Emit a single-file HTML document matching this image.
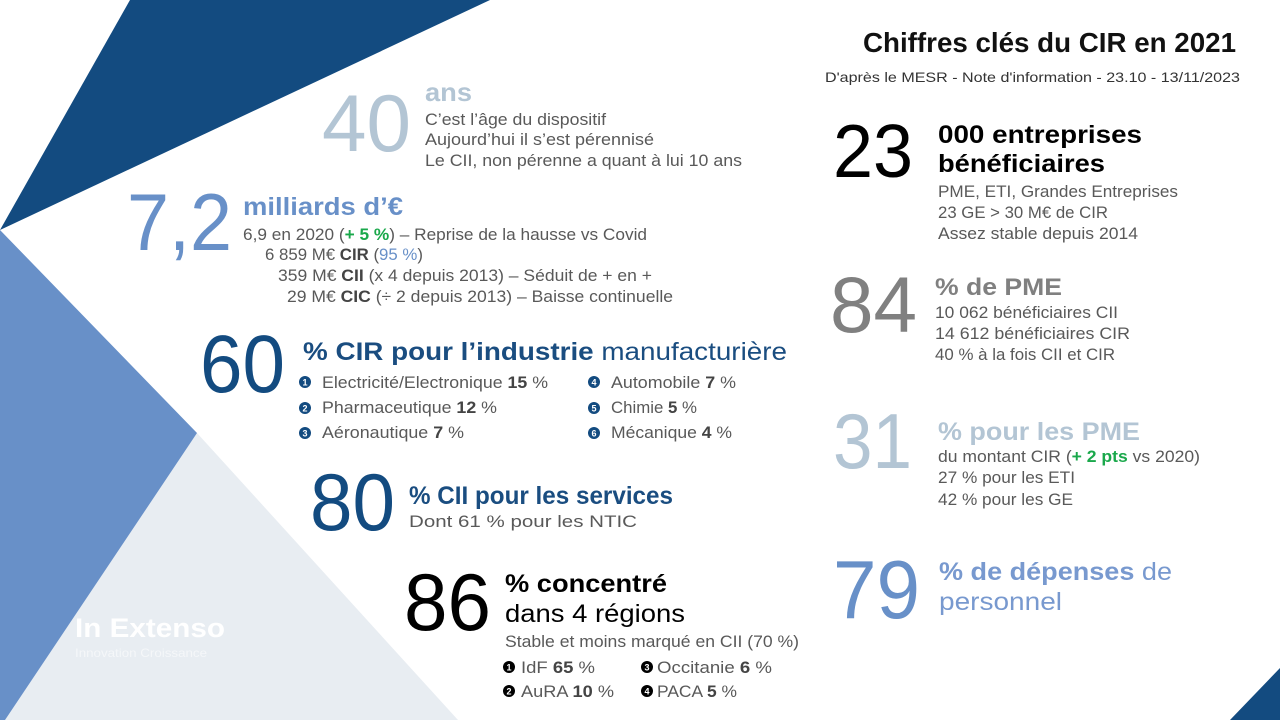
<!DOCTYPE html>
<html>
<head>
<meta charset="utf-8">
<style>
  html,body{margin:0;padding:0;background:#fff;}
  svg{display:block;}
  text{font-family:"Liberation Sans", Arial, sans-serif;}
</style>
</head>
<body>
<svg width="1280" height="720" viewBox="0 0 1280 720" xmlns="http://www.w3.org/2000/svg">
  <rect x="0" y="0" width="1280" height="720" fill="#ffffff"/>
  <!-- background shapes -->
  <polygon points="197,433 458,720 0,720" fill="#e8edf2"/>
  <polygon points="0,230 197,433 5,720 0,720" fill="#6890c8"/>
  <polygon points="130,0 490,0 0,230" fill="#134b80"/>
  <polygon points="1280,668 1280,720 1230,720" fill="#134b80"/>

  <!-- logo -->
  <text x="75" y="637" font-size="27" font-weight="bold" fill="#ffffff" textLength="150" lengthAdjust="spacingAndGlyphs">In Extenso</text>
  <text x="75" y="657" font-size="12" fill="#ffffff" fill-opacity="0.55" textLength="132" lengthAdjust="spacingAndGlyphs">Innovation Croissance</text>

  <!-- Title -->
  <text x="863" y="52" font-size="28" font-weight="bold" fill="#111111" textLength="373" lengthAdjust="spacingAndGlyphs">Chiffres clés du CIR en 2021</text>
  <text x="825" y="82" font-size="14" fill="#333333" textLength="415" lengthAdjust="spacingAndGlyphs">D'après le MESR - Note d'information - 23.10 - 13/11/2023</text>

  <!-- 40 -->
  <text x="322" y="151" font-size="81" fill="#b3c5d4" textLength="89" lengthAdjust="spacingAndGlyphs">40</text>
  <text x="425" y="101" font-size="26" font-weight="bold" fill="#b3c5d4" textLength="47" lengthAdjust="spacingAndGlyphs">ans</text>
  <g font-size="17" fill="#595959">
    <text x="425" y="125" textLength="181" lengthAdjust="spacingAndGlyphs">C’est l’âge du dispositif</text>
    <text x="425" y="145" textLength="229" lengthAdjust="spacingAndGlyphs">Aujourd’hui il s’est pérennisé</text>
    <text x="425" y="166" textLength="317" lengthAdjust="spacingAndGlyphs">Le CII, non pérenne a quant à lui 10 ans</text>
  </g>

  <!-- 7,2 -->
  <text x="127" y="250" font-size="81" fill="#6890c8" textLength="105" lengthAdjust="spacingAndGlyphs">7,2</text>
  <text x="243" y="215" font-size="25" font-weight="bold" fill="#6890c8" textLength="160" lengthAdjust="spacingAndGlyphs">milliards d’€</text>
  <g font-size="17" fill="#595959">
    <text x="243" y="240" textLength="404" lengthAdjust="spacingAndGlyphs">6,9 en 2020 (<tspan fill="#1aa84b" font-weight="bold">+ 5 %</tspan>) – Reprise de la hausse vs Covid</text>
    <text x="265" y="260" textLength="158" lengthAdjust="spacingAndGlyphs">6 859 M€ <tspan font-weight="bold" fill="#444">CIR</tspan> (<tspan fill="#6890c8">95 %</tspan>)</text>
    <text x="278" y="281" textLength="374" lengthAdjust="spacingAndGlyphs">359 M€ <tspan font-weight="bold" fill="#444">CII</tspan> (x 4 depuis 2013) – Séduit de + en +</text>
    <text x="287" y="302" textLength="386" lengthAdjust="spacingAndGlyphs">29 M€ <tspan font-weight="bold" fill="#444">CIC</tspan> (÷ 2 depuis 2013) – Baisse continuelle</text>
  </g>

  <!-- 60 -->
  <text x="200" y="392" font-size="82" fill="#134b80" textLength="85" lengthAdjust="spacingAndGlyphs">60</text>
  <text x="303" y="360" font-size="25" fill="#1a4d80" textLength="484" lengthAdjust="spacingAndGlyphs"><tspan font-weight="bold">% CIR pour l’industrie</tspan> manufacturière</text>
  <g fill="#134b80">
    <circle cx="305" cy="382" r="6"/>
    <circle cx="305" cy="408" r="6"/>
    <circle cx="305" cy="433" r="6"/>
    <circle cx="594" cy="382" r="6"/>
    <circle cx="594" cy="408" r="6"/>
    <circle cx="594" cy="433" r="6"/>
  </g>
  <g font-size="9" font-weight="bold" fill="#ffffff" text-anchor="middle">
    <text x="305" y="385.5">1</text>
    <text x="305" y="411.5">2</text>
    <text x="305" y="436.5">3</text>
    <text x="594" y="385.5">4</text>
    <text x="594" y="411.5">5</text>
    <text x="594" y="436.5">6</text>
  </g>
  <g font-size="17" fill="#595959">
    <text x="322" y="388" textLength="226" lengthAdjust="spacingAndGlyphs">Electricité/Electronique <tspan font-weight="bold" fill="#444">15</tspan> %</text>
    <text x="322" y="413" textLength="175" lengthAdjust="spacingAndGlyphs">Pharmaceutique <tspan font-weight="bold" fill="#444">12</tspan> %</text>
    <text x="322" y="438" textLength="142" lengthAdjust="spacingAndGlyphs">Aéronautique <tspan font-weight="bold" fill="#444">7</tspan> %</text>
    <text x="611" y="388" textLength="125" lengthAdjust="spacingAndGlyphs">Automobile <tspan font-weight="bold" fill="#444">7</tspan> %</text>
    <text x="611" y="413" textLength="86" lengthAdjust="spacingAndGlyphs">Chimie <tspan font-weight="bold" fill="#444">5</tspan> %</text>
    <text x="611" y="438" textLength="121" lengthAdjust="spacingAndGlyphs">Mécanique <tspan font-weight="bold" fill="#444">4</tspan> %</text>
  </g>

  <!-- 80 -->
  <text x="310" y="530" font-size="81" fill="#134b80" textLength="85" lengthAdjust="spacingAndGlyphs">80</text>
  <text x="409" y="504" font-size="25" font-weight="bold" fill="#1a4d80" textLength="264" lengthAdjust="spacingAndGlyphs">% CII pour les services</text>
  <text x="409" y="527" font-size="17" fill="#595959" textLength="228" lengthAdjust="spacingAndGlyphs">Dont 61 % pour les NTIC</text>

  <!-- 86 -->
  <text x="404" y="630" font-size="81" fill="#000000" textLength="87" lengthAdjust="spacingAndGlyphs">86</text>
  <text x="505" y="592" font-size="25" font-weight="bold" fill="#000000" textLength="162" lengthAdjust="spacingAndGlyphs">% concentré</text>
  <text x="505" y="622" font-size="25" fill="#000000" textLength="180" lengthAdjust="spacingAndGlyphs">dans 4 régions</text>
  <text x="505" y="647" font-size="17" fill="#595959" textLength="294" lengthAdjust="spacingAndGlyphs">Stable et moins marqué en CII (70 %)</text>
  <g fill="#000000">
    <circle cx="509" cy="667" r="6"/>
    <circle cx="509" cy="691" r="6"/>
    <circle cx="647" cy="667" r="6"/>
    <circle cx="647" cy="691" r="6"/>
  </g>
  <g font-size="9" font-weight="bold" fill="#ffffff" text-anchor="middle">
    <text x="509" y="670.5">1</text>
    <text x="509" y="694.5">2</text>
    <text x="647" y="670.5">3</text>
    <text x="647" y="694.5">4</text>
  </g>
  <g font-size="17" fill="#595959">
    <text x="521" y="673" textLength="74" lengthAdjust="spacingAndGlyphs">IdF <tspan font-weight="bold" fill="#444">65</tspan> %</text>
    <text x="521" y="697" textLength="93" lengthAdjust="spacingAndGlyphs">AuRA <tspan font-weight="bold" fill="#444">10</tspan> %</text>
    <text x="657" y="673" textLength="115" lengthAdjust="spacingAndGlyphs">Occitanie <tspan font-weight="bold" fill="#444">6</tspan> %</text>
    <text x="657" y="697" textLength="80" lengthAdjust="spacingAndGlyphs">PACA <tspan font-weight="bold" fill="#444">5</tspan> %</text>
  </g>

  <!-- 23 -->
  <text x="833" y="177" font-size="75" fill="#000000" textLength="80" lengthAdjust="spacingAndGlyphs">23</text>
  <text x="938" y="143" font-size="25" font-weight="bold" fill="#000000" textLength="204" lengthAdjust="spacingAndGlyphs">000 entreprises</text>
  <text x="938" y="172" font-size="25" font-weight="bold" fill="#000000" textLength="167" lengthAdjust="spacingAndGlyphs">bénéficiaires</text>
  <g font-size="17" fill="#595959">
    <text x="938" y="197" textLength="240" lengthAdjust="spacingAndGlyphs">PME, ETI, Grandes Entreprises</text>
    <text x="938" y="218" textLength="170" lengthAdjust="spacingAndGlyphs">23 GE &gt; 30 M€ de CIR</text>
    <text x="938" y="239" textLength="200" lengthAdjust="spacingAndGlyphs">Assez stable depuis 2014</text>
  </g>

  <!-- 84 -->
  <text x="830" y="332" font-size="79" fill="#808080" textLength="87" lengthAdjust="spacingAndGlyphs">84</text>
  <text x="935" y="295" font-size="24" font-weight="bold" fill="#808080" textLength="127" lengthAdjust="spacingAndGlyphs">% de PME</text>
  <g font-size="17" fill="#595959">
    <text x="935" y="318" textLength="183" lengthAdjust="spacingAndGlyphs">10 062 bénéficiaires CII</text>
    <text x="935" y="339" textLength="195" lengthAdjust="spacingAndGlyphs">14 612  bénéficiaires CIR</text>
    <text x="935" y="360" textLength="180" lengthAdjust="spacingAndGlyphs">40 % à la fois CII et CIR</text>
  </g>

  <!-- 31 -->
  <text x="833" y="468" font-size="78" fill="#b3c5d4" textLength="79" lengthAdjust="spacingAndGlyphs">31</text>
  <text x="938" y="440" font-size="25" font-weight="bold" fill="#b3c5d4" textLength="202" lengthAdjust="spacingAndGlyphs">% pour les PME</text>
  <g font-size="17" fill="#595959">
    <text x="938" y="462" textLength="262" lengthAdjust="spacingAndGlyphs">du montant CIR (<tspan fill="#1aa84b" font-weight="bold">+ 2 pts</tspan> vs 2020)</text>
    <text x="938" y="483" textLength="137" lengthAdjust="spacingAndGlyphs">27 % pour les ETI</text>
    <text x="938" y="505" textLength="135" lengthAdjust="spacingAndGlyphs">42 % pour les GE</text>
  </g>

  <!-- 79 -->
  <text x="833" y="618" font-size="83" fill="#6890c8" textLength="87" lengthAdjust="spacingAndGlyphs">79</text>
  <text x="939" y="580" font-size="25" fill="#7899cf" textLength="233" lengthAdjust="spacingAndGlyphs"><tspan font-weight="bold">% de dépenses</tspan> de</text>
  <text x="939" y="610" font-size="25" fill="#7899cf" textLength="123" lengthAdjust="spacingAndGlyphs">personnel</text>
</svg>
</body>
</html>
